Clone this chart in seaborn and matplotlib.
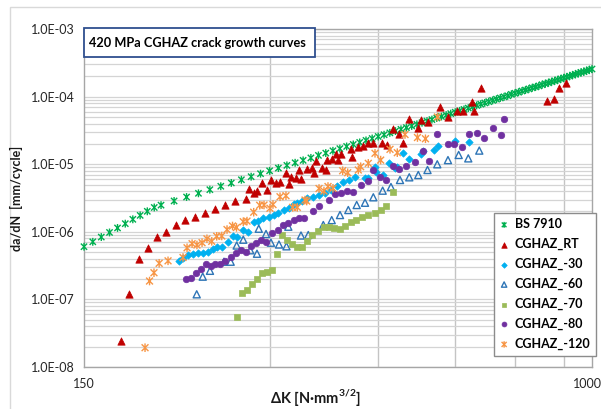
import matplotlib
matplotlib.use("Agg")
import numpy as np
import matplotlib.pyplot as plt
import matplotlib.transforms as mtransforms
from matplotlib.path import Path
from matplotlib.patches import Rectangle
from matplotlib.ticker import FixedLocator, NullFormatter, LogLocator
import seaborn as sns

sns.set_theme(style="white")
plt.rcParams['font.family'] = ['Lato', 'DejaVu Sans']
plt.rcParams['mathtext.fontset'] = 'custom'
plt.rcParams['mathtext.rm'] = 'Lato'
plt.rcParams['mathtext.bf'] = 'Lato:bold'

# ---------------------------------------------------------------- data
# BS 7910 design curve (two-stage law, air)
dk_bs = [150, 155, 160, 165, 170, 175, 180, 185, 190, 195, 200,
         210, 220, 230, 240, 250, 260, 270, 280, 290, 300,
         310, 320, 330, 340, 350, 360, 370, 380, 390, 400,
         410, 420, 430, 440, 450, 460, 470, 480, 490, 500,
         510, 520, 530, 540, 550, 560, 570, 580, 590, 600,
         610, 620, 630, 640, 650, 660, 670, 680, 690, 700,
         710, 720, 730, 740, 750, 760, 770, 780, 790, 800,
         810, 820, 830, 840, 850, 860, 870, 880, 890, 900,
         910, 920, 930, 940, 950, 960, 970, 980, 990, 1000]
rate_bs = [6.02e-7, 7.11e-7, 8.36e-7, 9.78e-7, 1.14e-6, 1.32e-6, 1.53e-6, 1.75e-6, 2.01e-6, 2.29e-6, 2.48e-6,
           2.86e-6, 3.27e-6, 3.71e-6, 4.20e-6, 4.72e-6, 5.28e-6, 5.89e-6, 6.54e-6, 7.24e-6, 7.98e-6,
           8.77e-6, 9.61e-6, 1.05e-5, 1.14e-5, 1.24e-5, 1.35e-5, 1.46e-5, 1.58e-5, 1.70e-5, 1.83e-5,
           1.96e-5, 2.10e-5, 2.25e-5, 2.40e-5, 2.57e-5, 2.73e-5, 2.91e-5, 3.09e-5, 3.28e-5, 3.48e-5,
           3.68e-5, 3.89e-5, 4.11e-5, 4.34e-5, 4.57e-5, 4.82e-5, 5.07e-5, 5.33e-5, 5.60e-5, 5.88e-5,
           6.16e-5, 6.46e-5, 6.76e-5, 7.07e-5, 7.40e-5, 7.73e-5, 8.07e-5, 8.42e-5, 8.79e-5, 9.16e-5,
           9.54e-5, 9.93e-5, 1.03e-4, 1.08e-4, 1.12e-4, 1.16e-4, 1.21e-4, 1.25e-4, 1.30e-4, 1.35e-4,
           1.39e-4, 1.44e-4, 1.50e-4, 1.55e-4, 1.60e-4, 1.66e-4, 1.71e-4, 1.77e-4, 1.83e-4, 1.89e-4,
           1.95e-4, 2.01e-4, 2.08e-4, 2.14e-4, 2.21e-4, 2.28e-4, 2.34e-4, 2.41e-4, 2.49e-4, 2.56e-4]

# CGHAZ, room temperature
dk_rt = [172.0, 177.6, 184.3, 190.5, 197.2, 203.8, 211.2, 219.0, 227.0, 235.9,
         244.2, 254.0, 263.9, 274.4, 277.5, 283.0, 286.2, 291.2, 297.4, 301.5,
         307.2, 312.2, 318.9, 322.9, 325.3, 331.4, 335.2, 337.3, 344.6, 351.1,
         354.5, 356.7, 364.4, 370.3, 372.1, 378.3, 384.4, 387.7, 391.6, 407.3,
         408.1, 417.8, 425.7, 433.7, 441.9, 455.9, 464.5, 476.1, 486.3, 494.2,
         505.4, 521.5, 528.0, 542.6, 567.9, 584.6, 603.3, 617.6, 638.0, 644.2,
         661.3, 845.2, 867.6, 885.6, 909.1]
rate_rt = [2.40e-8, 1.19e-7, 3.96e-7, 5.70e-7, 8.29e-7, 1.01e-6, 1.26e-6, 1.48e-6, 1.68e-6, 1.91e-6,
           2.21e-6, 2.52e-6, 2.83e-6, 3.09e-6, 4.30e-6, 3.71e-6, 3.95e-6, 5.22e-6, 4.15e-6, 5.84e-6,
           5.22e-6, 5.51e-6, 7.48e-6, 5.10e-6, 6.53e-6, 6.31e-6, 8.21e-6, 6.10e-6, 8.40e-6, 8.70e-6,
           7.33e-6, 1.13e-5, 8.70e-6, 8.21e-6, 1.15e-5, 1.18e-5, 1.40e-5, 1.15e-5, 1.42e-5, 1.68e-5,
           1.28e-5, 1.81e-5, 1.86e-5, 2.08e-5, 2.08e-5, 2.08e-5, 1.92e-5, 3.32e-5, 2.80e-5, 2.04e-5,
           4.66e-5, 3.40e-5, 4.51e-5, 4.25e-5, 7.09e-5, 5.04e-5, 6.12e-5, 6.12e-5, 8.40e-5, 6.12e-5,
           1.33e-4, 8.70e-5, 9.22e-5, 1.33e-4, 1.60e-4]

# CGHAZ, -30 C
dk_m30 = [213.9, 217.4, 221.2, 225.4, 229.6, 233.9, 237.9, 242.4, 246.9, 251.6,
          256.4, 261.7, 266.1, 272.1, 277.1, 283.0, 287.8, 293.2, 298.8, 304.4,
          310.1, 316.6, 322.2, 328.6, 332.7, 338.6, 345.3, 353.2, 360.8, 368.9,
          377.3, 385.8, 394.6, 402.8, 412.7, 428.4, 433.7, 444.7, 446.3, 457.6,
          469.0, 479.1, 483.3, 494.2, 505.4, 528.0, 532.5, 554.3, 563.2, 599.5,
          631.6]
rate_m30 = [3.72e-7, 4.12e-7, 4.58e-7, 4.66e-7, 4.81e-7, 4.91e-7, 4.97e-7, 5.66e-7, 5.96e-7, 6.02e-7,
            7.14e-7, 8.58e-7, 8.38e-7, 1.06e-6, 1.00e-6, 1.40e-6, 1.43e-6, 1.61e-6, 1.66e-6, 1.77e-6,
            1.90e-6, 2.08e-6, 2.25e-6, 2.58e-6, 2.69e-6, 2.88e-6, 3.13e-6, 3.30e-6, 3.50e-6, 3.81e-6,
            4.15e-6, 4.76e-6, 5.45e-6, 5.74e-6, 6.53e-6, 6.19e-6, 6.19e-6, 9.18e-6, 7.74e-6, 6.92e-6,
            1.04e-5, 8.70e-6, 9.18e-6, 1.46e-5, 1.18e-5, 1.42e-5, 1.57e-5, 1.62e-5, 1.86e-5, 2.24e-5,
            2.15e-5]

# CGHAZ, -60 C
dk_m60 = [228.5, 233.7, 240.1, 253.0, 259.4, 265.3, 271.9, 279.1, 286.2, 288.1,
          296.0, 301.5, 310.7, 319.5, 321.7, 337.3, 346.6, 366.6, 378.3, 390.2,
          402.5, 415.3, 428.4, 441.9, 457.6, 472.0, 488.2, 505.4, 522.7, 541.0,
          561.1, 584.0, 607.8, 630.0, 656.4]
rate_m60 = [1.19e-7, 2.17e-7, 2.65e-7, 3.61e-7, 3.61e-7, 6.27e-7, 7.64e-7, 5.33e-7, 4.74e-7, 1.11e-6,
            9.28e-7, 6.90e-7, 6.49e-7, 6.10e-7, 1.19e-6, 8.81e-7, 8.96e-7, 1.26e-6, 1.49e-6, 1.77e-6,
            2.10e-6, 2.49e-6, 2.69e-6, 3.24e-6, 4.06e-6, 4.60e-6, 5.84e-6, 6.40e-6, 6.92e-6, 8.21e-6,
            9.97e-6, 1.15e-5, 1.37e-5, 1.22e-5, 1.59e-5]

# CGHAZ, -70 C
dk_m70 = [265.9, 271.1, 275.9, 281.2, 285.9, 291.6, 296.7, 302.3, 308.0, 314.2,
          319.8, 325.9, 332.9, 339.0, 345.3, 352.1, 359.1, 366.9, 373.8, 381.3,
          389.5, 397.5, 406.6, 414.7, 424.4, 433.7, 444.7, 454.7, 464.2, 475.0]
rate_m70 = [5.55e-8, 1.24e-7, 1.38e-7, 1.69e-7, 1.99e-7, 2.42e-7, 2.52e-7, 2.72e-7, 4.69e-7, 9.06e-7,
            7.48e-7, 6.67e-7, 6.02e-7, 5.90e-7, 7.19e-7, 8.96e-7, 1.03e-6, 1.18e-6, 1.17e-6, 1.13e-6,
            1.09e-6, 1.22e-6, 1.41e-6, 1.51e-6, 1.66e-6, 1.77e-6, 1.92e-6, 2.12e-6, 2.41e-6, 3.88e-6]

# CGHAZ, -80 C
dk_m80 = [219.8, 223.5, 228.1, 232.0, 236.9, 241.1, 244.7, 249.3, 254.3, 259.5,
          264.4, 269.3, 274.4, 279.5, 284.8, 290.3, 296.3, 302.3, 309.0, 315.0,
          321.7, 328.6, 335.1, 341.5, 353.2, 360.8, 373.8, 383.0, 391.2, 400.1,
          409.1, 422.0, 434.0, 441.4, 453.0, 463.3, 476.1, 486.9, 499.2, 516.3,
          532.0, 544.4, 559.9, 584.0, 597.2, 614.6, 631.6, 650.4, 668.8, 690.3,
          711.8, 721.2]
rate_m80 = [1.99e-7, 2.05e-7, 2.46e-7, 2.80e-7, 3.34e-7, 3.09e-7, 3.34e-7, 3.36e-7, 3.73e-7, 4.24e-7,
            4.81e-7, 5.31e-7, 4.99e-7, 6.10e-7, 6.76e-7, 7.56e-7, 7.02e-7, 9.60e-7, 1.08e-6, 1.26e-6,
            1.37e-6, 1.49e-6, 1.58e-6, 1.58e-6, 2.01e-6, 2.41e-6, 2.95e-6, 3.62e-6, 3.79e-6, 4.01e-6,
            3.91e-6, 4.92e-6, 5.64e-6, 8.12e-6, 6.40e-6, 5.84e-6, 9.40e-6, 8.58e-6, 9.47e-6, 1.08e-5,
            1.58e-5, 1.13e-5, 2.78e-5, 1.96e-5, 1.99e-5, 1.77e-5, 2.78e-5, 2.86e-5, 2.47e-5, 3.41e-5,
            2.69e-5, 4.62e-5]

# CGHAZ, -120 C
dk_m120 = [188.4, 191.6, 194.8, 198.6, 205.3, 217.1, 220.4, 224.6, 228.7, 233.1,
           237.4, 241.7, 246.2, 250.9, 255.9, 261.2, 265.1, 271.9, 275.7, 282.7,
           289.1, 293.8, 300.4, 303.8, 311.9, 318.9, 327.0, 332.7, 342.4, 344.6,
           360.8, 367.5, 373.1, 380.1, 394.1, 401.6, 417.8, 421.5, 433.7, 444.7,
           454.2, 470.3, 483.3, 497.4, 521.1, 536.9, 561.5]
rate_m120 = [1.93e-8, 1.87e-7, 2.48e-7, 3.42e-7, 3.72e-7, 4.17e-7, 5.80e-7, 6.67e-7, 6.38e-7, 6.90e-7,
             7.88e-7, 7.23e-7, 8.58e-7, 8.67e-7, 1.08e-6, 1.22e-6, 1.16e-6, 1.41e-6, 1.44e-6, 1.95e-6,
             2.47e-6, 2.49e-6, 2.23e-6, 2.53e-6, 3.30e-6, 3.42e-6, 2.30e-6, 2.30e-6, 2.95e-6, 2.85e-6,
             4.37e-6, 4.01e-6, 4.68e-6, 4.40e-6, 8.01e-6, 7.48e-6, 8.21e-6, 9.18e-6, 1.03e-5, 1.45e-5,
             1.15e-5, 1.66e-5, 1.48e-5, 2.75e-5, 2.48e-5, 2.38e-5, 4.99e-5]

y_ticks = [1e-8, 1e-7, 1e-6, 1e-5, 1e-4, 1e-3]
y_tick_labels = ["1.0E-08", "1.0E-07", "1.0E-06", "1.0E-05", "1.0E-04", "1.0E-03"]
x_ticks = [150, 1000]
x_tick_labels = ["150", "1000"]
x_grid = [300, 450, 600, 750, 900]

title = "420 MPa CGHAZ crack growth curves"

# ---------------------------------------------------------------- figure
W, H = 601, 409
fig = plt.figure(figsize=(W / 100, H / 100), dpi=100)
fig.patch.set_facecolor("white")
ax = fig.add_axes([84 / W, 1 - 367 / H, 508 / W, 338 / H])

# chart-area frame (left and top edges fall inside the image)
fig.add_artist(Rectangle((10.5 / W, -0.5), 2.0, 0.5 + 1 - 6.5 / H,
                         transform=fig.transFigure, fill=False,
                         edgecolor="#D9D9D9", lw=1.0, zorder=0))

# X + vertical bar marker
star = Path([(-1, -1), (1, 1), (-1, 1), (1, -1), (0, -1.25), (0, 1.25)],
            [Path.MOVETO, Path.LINETO] * 3)

series = [
    ("BS 7910", dk_bs, rate_bs, dict(marker=star, s=32, color="#00B050", facecolor="none",
                                     edgecolor="#00B050", linewidth=1.0, clip_on=False)),
    ("CGHAZ_RT", dk_rt, rate_rt, dict(marker="^", s=28, color="#C00000", edgecolor="#C00000",
                                      linewidth=0.5)),
    ("CGHAZ_-30", dk_m30, rate_m30, dict(marker="D", s=14, color="#00B0F0", edgecolor="#00B0F0",
                                         linewidth=0.5)),
    ("CGHAZ_-60", dk_m60, rate_m60, dict(marker="^", s=26, color="#2E75B6", facecolor="none",
                                         edgecolor="#2E75B6", linewidth=1.0)),
    ("CGHAZ_-70", dk_m70, rate_m70, dict(marker="s", s=18, color="#9BBB59", edgecolor="#9BBB59",
                                         linewidth=0.5)),
    ("CGHAZ_-80", dk_m80, rate_m80, dict(marker="o", s=22, color="#7030A0", edgecolor="#7030A0",
                                         linewidth=0.5)),
    ("CGHAZ_-120", dk_m120, rate_m120, dict(marker=star, s=38, color="#F79646", facecolor="none",
                                            edgecolor="#F79646", linewidth=1.0)),
]

for label, xs, ys, kw in series:
    sns.scatterplot(x=xs, y=ys, ax=ax, label=label, zorder=3, **kw)

ax.set_xscale("log")
ax.set_yscale("log")
ax.set_xlim(150, 1000)
ax.set_ylim(1e-8, 1e-3)

ax.yaxis.set_major_locator(FixedLocator(y_ticks))
ax.set_yticklabels(y_tick_labels)
ax.yaxis.set_minor_locator(LogLocator(base=10, subs=np.arange(2, 10)))
ax.yaxis.set_minor_formatter(NullFormatter())

ax.xaxis.set_major_locator(FixedLocator(x_ticks))
ax.set_xticklabels(x_tick_labels)
ax.xaxis.set_minor_locator(FixedLocator(x_grid))
ax.xaxis.set_minor_formatter(NullFormatter())

ax.set_axisbelow(True)
ax.grid(True, which="both", axis="y", color="#D4D4D4", lw=0.9)
ax.grid(True, which="minor", axis="x", color="#C4C4C4", lw=1.0)

ax.tick_params(axis="x", which="both", length=0, pad=8, labelsize=9, labelcolor="#262626")
ax.tick_params(axis="y", which="major", length=4, width=0.9, color="#9A9A9A", pad=2.5,
               labelsize=9, labelcolor="#262626")
ax.tick_params(axis="y", which="minor", length=0)

for sp in ax.spines.values():
    sp.set_color("#A6A6A6")
    sp.set_linewidth(1.0)

# nudge the right-hand x label inside the chart
lab = ax.get_xticklabels()[1]
lab.set_transform(lab.get_transform() +
                  mtransforms.ScaledTranslation(-5 / 100, 0, fig.dpi_scale_trans))

ax.set_ylabel("da/dN  [mm/cycle]", fontsize=9, fontweight="bold", color="#1A1A1A", labelpad=6)
fig.text(315 / W, 1 - 397 / H, r"ΔK [N·mm$^{\mathbf{3/2}}$]", ha="center", va="center",
         fontsize=10.5, fontweight="bold", color="#1A1A1A")

# title box
fig.add_artist(Rectangle((84 / W, 1 - 57 / H), (315 - 84) / W, 29 / H,
                         transform=fig.transFigure, facecolor="white",
                         edgecolor="#2F4F8F", lw=1.3, zorder=5))
fig.text(89 / W, 1 - 43 / H, title, ha="left", va="center", fontsize=9.2,
         fontweight="bold", color="black", zorder=6)

leg = ax.legend(loc="upper left", bbox_to_anchor=(493.5 / W, 1 - 212.5 / H),
                bbox_transform=fig.transFigure, frameon=True, fancybox=False,
                edgecolor="#8C8C8C", framealpha=1, borderaxespad=0,
                prop=dict(weight="bold", size=9), markerscale=0.75,
                handlelength=0.8, handletextpad=0.45, labelspacing=0.62,
                borderpad=0.45, scatterpoints=1)
leg.get_frame().set_linewidth(1.0)
for t in leg.get_texts():
    t.set_color("black")

fig.savefig("out.png", dpi=100)
